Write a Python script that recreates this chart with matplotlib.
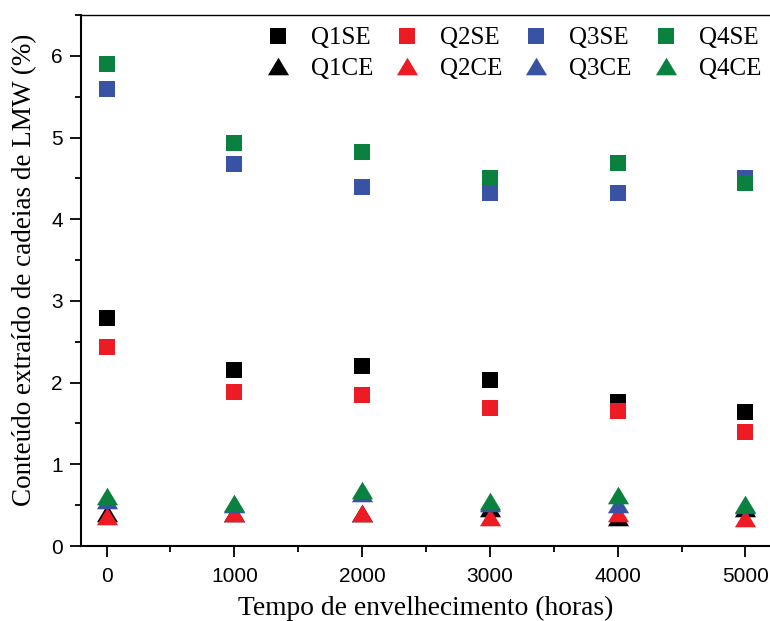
import matplotlib
matplotlib.use("Agg")
import matplotlib.pyplot as plt
from matplotlib.ticker import MultipleLocator

hours = [0, 1000, 2000, 3000, 4000, 5000]

q1se = [2.79, 2.16, 2.20, 2.03, 1.76, 1.64]
q2se = [2.44, 1.88, 1.85, 1.69, 1.65, 1.40]
q3se = [5.59, 4.68, 4.39, 4.32, 4.32, 4.50]
q4se = [5.90, 4.93, 4.82, 4.50, 4.69, 4.44]

q1ce = [0.41, 0.40, 0.40, 0.46, 0.36, 0.46]
q2ce = [0.37, 0.40, 0.40, 0.36, 0.40, 0.34]
q3ce = [0.56, 0.52, 0.65, 0.53, 0.52, 0.50]
q4ce = [0.61, 0.53, 0.68, 0.55, 0.63, 0.51]

se_labels = ["Q1SE", "Q2SE", "Q3SE", "Q4SE"]
ce_labels = ["Q1CE", "Q2CE", "Q3CE", "Q4CE"]
colors = ["#000000", "#ED1C24", "#3953A4", "#0B8140"]

tri = [(-1.2, -1.0), (1.2, -1.0), (0.0, 1.0), (-1.2, -1.0)]

fig = plt.figure(figsize=(7.7, 6.21), dpi=100)
ax = fig.add_axes([81/770, 1 - 546/621, 690/770, (546 - 15)/621])

se_handles = []
for vals, lab, c in zip([q1se, q2se, q3se, q4se], se_labels, colors):
    h, = ax.plot(hours, vals, linestyle="none", marker="s", ms=11.4,
                 color=c, mec=c, mew=0, label=lab)
    se_handles.append(h)
ce_handles = []
for vals, lab, c in zip([q1ce, q2ce, q3ce, q4ce], ce_labels, colors):
    h, = ax.plot(hours, vals, linestyle="none", marker=tri, ms=15.2,
                 color=c, mec=c, mew=0, label=lab)
    ce_handles.append(h)

ax.set_xlim(-200, 5200)
ax.set_ylim(0, 6.5)
ax.xaxis.set_major_locator(MultipleLocator(1000))
ax.xaxis.set_minor_locator(MultipleLocator(500))
ax.yaxis.set_major_locator(MultipleLocator(1))
ax.yaxis.set_minor_locator(MultipleLocator(0.5))
ax.tick_params(which="major", direction="out", length=8, width=1.3,
               labelsize=15, top=False, right=False)
ax.tick_params(axis="x", which="major", pad=7)
ax.tick_params(axis="y", which="major", pad=5)
ax.tick_params(which="minor", direction="out", length=4.5, width=1.3,
               top=False, right=False)
for lab in ax.get_xticklabels() + ax.get_yticklabels():
    lab.set_family("Liberation Sans")
ax.spines["right"].set_visible(False)
ax.spines["left"].set_linewidth(1.5)
ax.spines["bottom"].set_linewidth(1.5)
ax.spines["top"].set_linewidth(1.0)

ax.set_xlabel("Tempo de envelhecimento (horas)", family="Liberation Serif",
              fontsize=19.8, labelpad=7)
ax.set_ylabel("Conteúdo extraído de cadeias de LMW (%)", family="Liberation Serif",
              fontsize=19.5, labelpad=10)
ax.yaxis.label.set_y(0.52)

handles = []
for s, t in zip(se_handles, ce_handles):
    handles += [s, t]
leg = fig.legend(handles=handles, labels=[h.get_label() for h in handles],
                 ncol=4, loc="center left", bbox_to_anchor=(265/770, 1 - 53.5/621),
                 frameon=False, borderpad=0, borderaxespad=0,
                 handlelength=1.0, handletextpad=0.82, columnspacing=0.86,
                 labelspacing=0.32, prop={"family": "Liberation Serif", "size": 18})

fig.savefig("out.png", dpi=100)
